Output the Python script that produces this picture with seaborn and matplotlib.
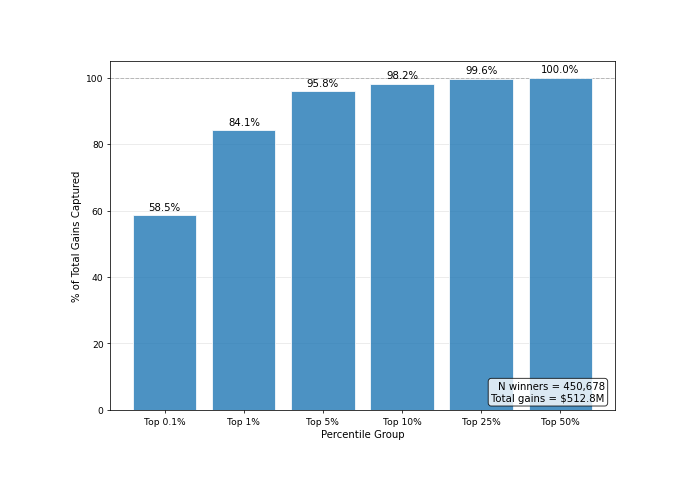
import matplotlib
matplotlib.use("Agg")
import matplotlib.pyplot as plt
import seaborn as sns
import pandas as pd

groups = ["Top 0.1%", "Top 1%", "Top 5%", "Top 10%", "Top 25%", "Top 50%"]
shares = [58.5, 84.1, 95.8, 98.2, 99.6, 100.0]
n_winners = "450,678"
total_gains = "$512.8M"

sns.set_style("ticks")
plt.rcParams['font.family'] = ['DejaVu Sans']
plt.rcParams['text.color'] = 'black'
plt.rcParams['axes.labelcolor'] = 'black'
plt.rcParams['xtick.color'] = 'black'
plt.rcParams['ytick.color'] = 'black'

df = pd.DataFrame({"group": groups, "share": shares})

k = 1.07
fig = plt.figure(figsize=(10, 7.22), dpi=68)
ax = fig.add_axes([0.162, 0.163, 0.742, 0.711])
sns.barplot(data=df, x="group", y="share", color="#1f77b4", alpha=0.8,
            width=0.8, saturation=1, ax=ax, zorder=3)
for p, v in zip(ax.patches, shares):
    ax.text(p.get_x() + p.get_width() / 2, p.get_height() + 1, f"{v:.1f}%",
            ha="center", va="bottom", fontsize=10 * k)
ax.axhline(100, color="gray", linestyle="--", alpha=0.5, linewidth=1, zorder=1)
ax.set_xlim(-0.69, 5.69)
ax.set_ylim(0, 105)
ax.set_yticks([0, 20, 40, 60, 80, 100])
ax.grid(axis="y", alpha=0.3, color="#b0b0b0", linewidth=0.8, zorder=0)
ax.set_axisbelow(True)
ax.set_xlabel("Percentile Group", fontsize=10 * k)
ax.set_ylabel("% of Total Gains Captured", fontsize=10 * k)
ax.tick_params(labelsize=9 * k)
for s in ax.spines.values():
    s.set_visible(True)
    s.set_color("black")
ax.text(0.98, 0.02, f"N winners = {n_winners}\nTotal gains = {total_gains}",
        transform=ax.transAxes, ha="right", va="bottom", fontsize=10 * k,
        bbox=dict(boxstyle="round", facecolor="white", edgecolor="black",
                  alpha=0.8), zorder=5)
fig.savefig("out.png", dpi=68)
